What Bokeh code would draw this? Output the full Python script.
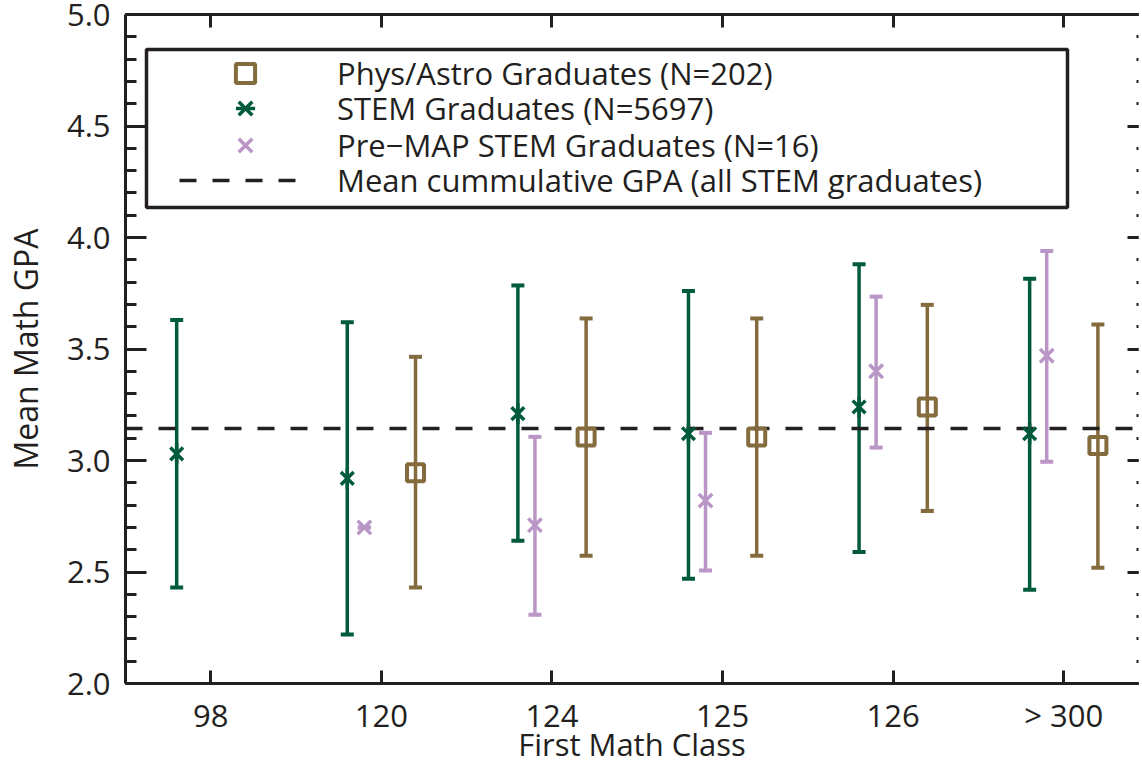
import numpy as np
from bokeh.plotting import figure
from bokeh.models import (Range1d, FixedTicker, SingleIntervalTicker, LinearAxis, Whisker, TeeHead,
                          ColumnDataSource, Legend, LegendItem, BoxAnnotation, PrintfTickFormatter,
                          CustomLabelingPolicy)
from bokeh.transform import dodge
from bokeh.embed import file_html
from bokeh.resources import INLINE

# ---------------- data ----------------
categories = ["98", "120", "124", "125", "126", "> 300"]

stem_classes = ["98", "120", "124", "125", "126", "> 300"]
stem_mean = [3.03, 2.92, 3.21, 3.12, 3.24, 3.12]
stem_upper = [3.63, 3.62, 3.785, 3.76, 3.88, 3.815]
stem_lower = [2.43, 2.22, 2.64, 2.47, 2.59, 2.42]

phys_classes = ["120", "124", "125", "126", "> 300"]
phys_mean = [2.945, 3.105, 3.105, 3.24, 3.067]
phys_upper = [3.465, 3.637, 3.637, 3.698, 3.61]
phys_lower = [2.43, 2.573, 2.573, 2.774, 2.519]

premap_classes = ["120", "124", "125", "126", "> 300"]
premap_mean = [2.70, 2.71, 2.82, 3.40, 3.47]
premap_upper = [2.70, 3.106, 3.124, 3.735, 3.939]
premap_lower = [2.70, 2.308, 2.507, 3.058, 2.994]

mean_cum_gpa = [3.145]

legend_labels = ["Phys/Astro Graduates (N=202)", "STEM Graduates (N=5697)",
                 "Pre\u2212MAP STEM Graduates (N=16)", "Mean cummulative GPA (all STEM graduates)"]
x_title = "First Math Class"
y_title = "Mean Math GPA"

# ---------------- style ----------------
GREEN = "#005A3C"
BROWN = "#836B3E"
PURPLE = "#BA96C6"
INK = "#231F20"
FONT = "Open Sans"
FS = "31px"

cat_pos = {c: i + 1 for i, c in enumerate(categories)}
x_positions = [cat_pos[c] for c in categories]


def src(classes, mean, upper, lower):
    return ColumnDataSource(dict(x=[cat_pos[c] for c in classes], y=mean, upper=upper, lower=lower))


stem_src = src(stem_classes, stem_mean, stem_upper, stem_lower)
phys_src = src(phys_classes, phys_mean, phys_upper, phys_lower)
premap_src = src(premap_classes, premap_mean, premap_upper, premap_lower)

p = figure(width=1142, height=767, x_range=Range1d(0.5, 6.438), y_range=Range1d(2.0, 5.0),
           output_backend="svg", toolbar_location=None,
           min_border_left=123, min_border_right=0, min_border_top=14, min_border_bottom=84)
p.outline_line_color = None
p.grid.grid_line_color = None
p.background_fill_color = "white"
p.border_fill_color = "white"


def style_axis(ax):
    ax.axis_line_color = INK
    ax.axis_line_width = 3
    ax.major_tick_line_color = INK
    ax.major_tick_line_width = 3
    ax.minor_tick_line_color = INK
    ax.minor_tick_line_width = 3
    ax.major_tick_out = 0
    ax.minor_tick_out = 0
    ax.major_label_text_font = FONT
    ax.major_label_text_font_size = FS
    ax.major_label_text_color = INK
    ax.axis_label_text_font = FONT
    ax.axis_label_text_font_style = "normal"
    ax.axis_label_text_color = INK


no_labels = CustomLabelingPolicy(code="for (const i of indices) { indices.unset(i) }\nreturn indices")

# bottom axis
xa = p.xaxis[0]
style_axis(xa)
xa.ticker = FixedTicker(ticks=x_positions, minor_ticks=[])
xa.major_label_overrides = {pos: c for pos, c in zip(x_positions, categories)}
xa.major_tick_in = 13
xa.major_label_standoff = 10
xa.axis_label = x_title
xa.axis_label_text_font_size = "31px"
xa.axis_label_standoff = -16

# left axis
ya = p.yaxis[0]
style_axis(ya)
ya.ticker = SingleIntervalTicker(interval=0.5, num_minor_ticks=5)
ya.formatter = PrintfTickFormatter(format="%.1f")
ya.major_tick_in = 21
ya.minor_tick_in = 11
ya.major_label_standoff = 15
ya.axis_label = y_title
ya.axis_label_text_font_size = "32px"
ya.axis_label_standoff = 17

# top axis (ticks only)
ta = LinearAxis(ticker=FixedTicker(ticks=x_positions, minor_ticks=[]))
style_axis(ta)
ta.major_tick_in = 13
ta.major_label_text_font_size = "1px"
ta.major_label_standoff = 0
ta.major_label_policy = no_labels
p.add_layout(ta, "above")

# right axis (ticks only, its line falls outside the crop)
ra = LinearAxis(ticker=SingleIntervalTicker(interval=0.5, num_minor_ticks=5))
style_axis(ra)
ra.axis_line_alpha = 0
ra.major_tick_in = 11
ra.minor_tick_in = 2
ra.major_label_text_font_size = "1px"
ra.major_label_standoff = 0
ra.major_label_policy = no_labels
p.add_layout(ra, "right")

# mean cumulative GPA line
r_mean = p.hspan(y=mean_cum_gpa, line_color=INK, line_width=3.5, line_dash="17 16")


def add_whisker(source, offset, color):
    w = Whisker(base=dodge("x", offset), upper="upper", lower="lower", source=source,
                dimension="height", line_color=color, line_width=3.5,
                upper_head=TeeHead(size=13, line_color=color, line_width=4),
                lower_head=TeeHead(size=13, line_color=color, line_width=4))
    p.add_layout(w)


add_whisker(stem_src, -0.2, GREEN)
add_whisker(premap_src, -0.1, PURPLE)
add_whisker(phys_src, 0.2, BROWN)

r_phys = p.scatter(x=dodge("x", 0.2), y="y", source=phys_src, marker="square", size=17,
                   fill_alpha=0, line_color=BROWN, line_width=4)
r_stem_x = p.scatter(x=dodge("x", -0.2), y="y", source=stem_src, marker="x", size=18,
                     line_color=GREEN, line_width=3.5)
r_stem_v = p.scatter(x=dodge("x", -0.2), y="y", source=stem_src, marker="dash", angle=np.pi / 2,
                     size=21, line_color=GREEN, line_width=3.5)
r_premap = p.scatter(x=dodge("x", -0.1), y="y", source=premap_src, marker="x", size=19,
                     line_color=PURPLE, line_width=3.5)

# legend frame
p.add_layout(BoxAnnotation(left=146, right=1067, top=49, bottom=207,
                           left_units="canvas", right_units="canvas",
                           top_units="canvas", bottom_units="canvas",
                           fill_color="white", fill_alpha=1, line_color=INK, line_alpha=1,
                           line_width=3.5))

# one legend per row so that the row pitch follows the reference
legend_rows = [(legend_labels[0], [r_phys], 586),
               (legend_labels[1], [r_stem_x, r_stem_v], 551),
               (legend_labels[2], [r_premap], 514),
               (legend_labels[3], [r_mean], 479)]
for label, rends, vy in legend_rows:
    p.add_layout(Legend(items=[LegendItem(label=label, renderers=rends)],
                        location=(54, vy), padding=0, spacing=0, margin=0,
                        glyph_width=132, glyph_height=48, label_height=40, label_standoff=26,
                        label_text_font=FONT, label_text_font_size=FS, label_text_color=INK,
                        border_line_alpha=0, background_fill_alpha=0))

open("out.html", "w").write(file_html(p, INLINE))
